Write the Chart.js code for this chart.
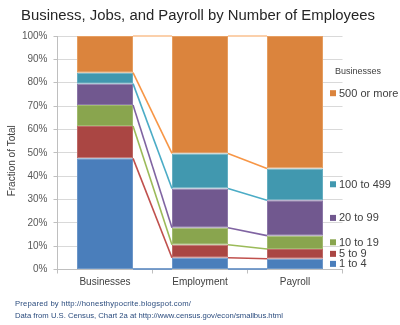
<!DOCTYPE html>
<html><head><meta charset="utf-8">
<script src="https://cdn.jsdelivr.net/npm/chart.js@4/dist/chart.umd.min.js"></script>
<style>html,body{margin:0;padding:0;background:#fff}#wrap{width:400px;height:325px}</style>
</head><body><div id="wrap"><canvas id="c" width="400" height="325"></canvas></div>
<script>
const categories = ['Businesses', 'Employment', 'Payroll'];
const seriesNames = ['1 to 4', '5 to 9', '10 to 19', '20 to 99', '100 to 499', '500 or more'];
const size1to4     = [47.6, 5.0, 4.6];
const size5to9     = [13.9, 5.6, 4.2];
const size10to19   = [8.9, 7.3, 5.7];
const size20to99   = [9.2, 16.8, 15.2];
const size100to499 = [4.7, 15.0, 13.6];
const size500plus  = [15.7, 50.3, 56.7];
const yTickValues  = [0, 10, 20, 30, 40, 50, 60, 70, 80, 90, 100];
const yTickLabels  = ['0%', '10%', '20%', '30%', '40%', '50%', '60%', '70%', '80%', '90%', '100%'];
const legendTitle = 'Businesses';
const chartTitle = 'Business, Jobs, and Payroll by Number of Employees';
const yTitle = 'Fraction of Total';
const footerLines = ['Prepared by http://honesthypocrite.blogspot.com/',
                     'Data from U.S. Census, Chart 2a at http://www.census.gov/econ/smallbus.html'];

const seriesValues = [size1to4, size5to9, size10to19, size20to99, size100to499, size500plus];
const barColors  = ['#4A7EBB', '#AA4643', '#89A54E', '#71588F', '#4198AF', '#DB843D'];
const edgeColors = ['#6E98C9', '#BE6A67', '#A2BA70', '#8C78A8', '#67AFC2', '#E79F62'];
const lineColors = ['#4F81BD', '#C0504D', '#9BBB59', '#8064A2', '#4BACC6', '#F79646'];
const topLineColor = '#FAC08F';
const FONT = "'Liberation Sans', Arial, sans-serif";

function fitFont(ctx, text, width, base) {
  ctx.font = base + 'px ' + FONT;
  return base * width / ctx.measureText(text).width;
}

const connectors = {
  id: 'connectors',
  beforeDatasetsDraw(chart) {
    const ctx = chart.ctx, y = chart.scales.y;
    const els = chart.getDatasetMeta(0).data;
    const top = y.getPixelForValue(100), bot = y.getPixelForValue(0);
    ctx.save();
    ctx.fillStyle = '#ffffff';
    for (let j = 0; j < els.length - 1; j++) {
      const x1 = els[j].x + els[j].width / 2, x2 = els[j + 1].x - els[j + 1].width / 2;
      ctx.fillRect(x1, top - 0.5, x2 - x1, bot - top + 0.5);
    }
    ctx.restore();
  },
  afterDatasetsDraw(chart) {
    const ctx = chart.ctx;
    const n = chart.data.datasets.length;
    ctx.save();
    ctx.lineWidth = 1.6;
    for (let k = 0; k <= n; k++) {
      const els = chart.getDatasetMeta(Math.min(k, n - 1)).data;
      ctx.strokeStyle = k < n ? lineColors[k] : topLineColor;
      for (let j = 0; j < els.length - 1; j++) {
        const a = els[j], b = els[j + 1];
        const x1 = a.x + a.width / 2, x2 = b.x - b.width / 2;
        const y1 = k < n ? a.base : a.y, y2 = k < n ? b.base : b.y;
        ctx.beginPath(); ctx.moveTo(x1, y1); ctx.lineTo(x2, y2); ctx.stroke();
      }
    }
    ctx.restore();
  },
  afterDraw(chart) {
    const ctx = chart.ctx, area = chart.chartArea;
    const n = chart.data.datasets.length;
    const last = chart.data.labels.length - 1;
    ctx.save();
    // title
    const ts = fitFont(ctx, chartTitle, 354, 15);
    ctx.font = ts.toFixed(2) + 'px ' + FONT;
    ctx.fillStyle = '#262626';
    ctx.textAlign = 'center'; ctx.textBaseline = 'middle';
    ctx.fillText(chartTitle, 198, 15.5);
    // y axis title
    ctx.fillStyle = '#404040';
    ctx.font = '10px ' + FONT;
    ctx.translate(12.5, (area.top + area.bottom) / 2 + 8);
    ctx.rotate(-Math.PI / 2);
    ctx.fillText(yTitle, 0, 0);
    ctx.setTransform(1, 0, 0, 1, 0, 0);
    // legend
    const lx = area.right - 12.5;
    ctx.textAlign = 'left';
    ctx.font = '9px ' + FONT;
    ctx.fillStyle = '#404040';
    ctx.fillText(legendTitle, lx + 5, area.top + 35.5);
    ctx.font = '11px ' + FONT;
    for (let k = 0; k < n; k++) {
      const el = chart.getDatasetMeta(k).data[last];
      let ym = (el.y + el.base) / 2;
      if (k === n - 1) ym -= 9;
      ctx.fillStyle = barColors[k];
      ctx.fillRect(lx, ym - 3, 6, 6);
      ctx.fillStyle = '#404040';
      ctx.fillText(chart.data.datasets[k].label, lx + 9, ym + 0.5);
    }
    // footer
    const fs = fitFont(ctx, footerLines[1], 268, 8);
    ctx.font = fs.toFixed(2) + 'px ' + FONT;
    ctx.fillStyle = '#2B4C7E';
    const w0 = ctx.measureText(footerLines[0]).width;
    const extra = Math.max(0, (176 - w0) / footerLines[0].length);
    ctx.letterSpacing = extra.toFixed(2) + 'px';
    ctx.fillText(footerLines[0], 15, 304);
    ctx.letterSpacing = '0px';
    ctx.fillText(footerLines[1], 15, 315.7);
    ctx.restore();
  }
};

new Chart(document.getElementById('c'), {
  type: 'bar',
  data: {
    labels: categories,
    datasets: seriesNames.map((name, i) => ({
      label: name,
      data: seriesValues[i],
      backgroundColor: barColors[i],
      borderColor: edgeColors[i],
      borderWidth: 1,
      borderSkipped: false,
      barPercentage: 0.59,
      categoryPercentage: 1.0
    }))
  },
  options: {
    responsive: false,
    animation: false,
    devicePixelRatio: 1,
    layout: { padding: { left: 0, right: 57.5, top: 36, bottom: 30.5 } },
    plugins: {
      legend: { display: false },
      tooltip: { enabled: false },
      title: { display: false }
    },
    scales: {
      x: {
        stacked: true,
        afterFit: s => { s.height = 25; },
        grid: { display: true, drawOnChartArea: false, drawTicks: true, tickLength: 4, color: '#BFBFBF', offset: true },
        border: { color: '#BFBFBF' },
        ticks: { color: '#404040', font: { family: FONT, size: 10 }, padding: 3 }
      },
      y: {
        stacked: true, min: 0, max: 100,
        afterFit: s => { s.width = 57.5; },
        afterBuildTicks: s => { s.ticks = yTickValues.map(v => ({ value: v })); },
        grid: { color: '#D9D9D9', tickLength: 4, tickColor: '#BFBFBF' },
        border: { color: '#BFBFBF' },
        ticks: {
          color: '#595959', font: { family: FONT, size: 10 }, padding: 6,
          callback: v => yTickLabels[yTickValues.indexOf(v)]
        }
      }
    }
  },
  plugins: [connectors]
});
</script>
</body></html>
